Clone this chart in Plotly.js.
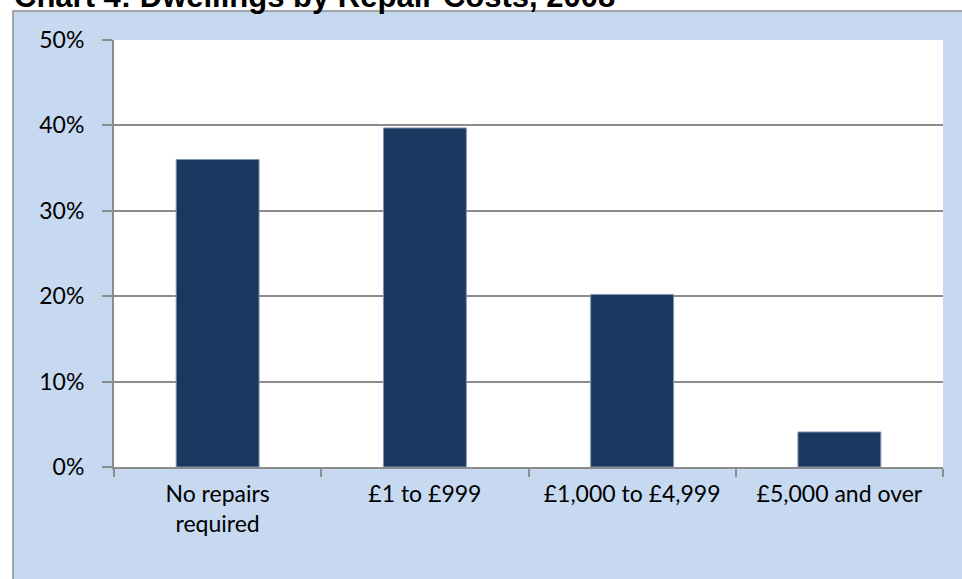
<!DOCTYPE html>
<html>
<head>
<meta charset="utf-8">
<script src="https://cdn.plot.ly/plotly-3.0.1.min.js"></script>
<style>html,body{margin:0;padding:0;background:#fff;}#chart{width:962px;height:579px;}</style>
</head>
<body>
<div id="chart"></div>
<script>
const categories = ["No repairs<br>required", "£1 to £999", "£1,000 to £4,999", "£5,000 and over"];
const sharePct = [36.0, 39.7, 20.2, 4.1];
const yTickVals = [0, 10, 20, 30, 40, 50];
const yTickText = ["0%", "10%", "20%", "30%", "40%", "50%"];
const chartTitle = "Chart 4: Dwellings by Repair Costs, 2008";

const W = 962, H = 579;
const m = {l: 114, r: 19, t: 40, b: 112};
const pw = W - m.l - m.r, ph = H - m.t - m.b;

const trace = {
  type: 'bar',
  x: categories,
  y: sharePct,
  marker: {color: '#1a3760', line: {color: '#8196b3', width: 1}},
  hoverinfo: 'skip'
};

const labelFont = {family: 'Lato, sans-serif', size: 23, color: '#000'};

const layout = {
  width: W, height: H,
  margin: m,
  paper_bgcolor: '#ffffff',
  plot_bgcolor: 'rgba(0,0,0,0)',
  bargap: 0.6,
  showlegend: false,
  font: labelFont,
  title: {
    text: '<b>' + chartTitle + '</b>',
    font: {family: '"Liberation Sans", Arial, sans-serif', size: 31, color: '#000'},
    xref: 'container', yref: 'container',
    x: 14 / W, xanchor: 'left',
    y: 1 - 7 / H, yanchor: 'bottom'
  },
  xaxis: {
    type: 'category',
    showline: true, linecolor: '#8c8c8c', linewidth: 2,
    ticks: 'outside', ticklen: 8, tickwidth: 2, tickcolor: '#8c8c8c',
    tickson: 'boundaries',
    showgrid: false,
    tickfont: labelFont,
    ticklabelstandoff: 5
  },
  yaxis: {
    range: [0, 50],
    tickvals: yTickVals, ticktext: yTickText,
    showline: true, linecolor: '#8c8c8c', linewidth: 2,
    ticks: 'outside', ticklen: 10, tickwidth: 2, tickcolor: '#8c8c8c',
    showgrid: true, gridcolor: '#8c8c8c', gridwidth: 2,
    zeroline: false,
    tickfont: labelFont,
    ticklabelstandoff: 13
  },
  shapes: [
    {type: 'rect', xref: 'paper', yref: 'paper', layer: 'below',
     x0: (13 - m.l) / pw, x1: 1.2, y0: -0.5, y1: (H - m.b - 11) / ph,
     fillcolor: '#c6d9f0', line: {color: '#8e8e8e', width: 1.5}},
    {type: 'rect', xref: 'paper', yref: 'paper', layer: 'below',
     x0: 0, x1: 1, y0: 0, y1: 1,
     fillcolor: '#ffffff', line: {width: 0}}
  ]
};

Plotly.newPlot('chart', [trace], layout, {displayModeBar: false, staticPlot: true});
</script>
</body>
</html>
